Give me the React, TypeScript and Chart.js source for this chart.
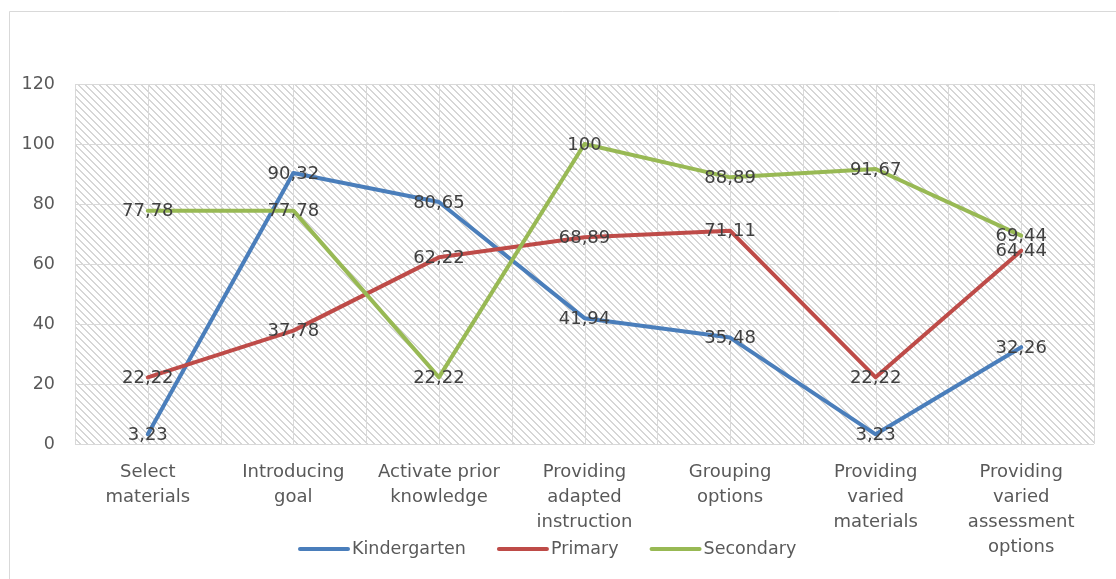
import React, { useEffect, useRef } from 'react';
import { Chart, registerables } from 'chart.js';

Chart.register(...registerables);

const categories: string[][] = [
  ['Select', 'materials'],
  ['Introducing', 'goal'],
  ['Activate prior', 'knowledge'],
  ['Providing', 'adapted', 'instruction'],
  ['Grouping', 'options'],
  ['Providing', 'varied', 'materials'],
  ['Providing', 'varied', 'assessment', 'options'],
];
const seriesNames = ['Kindergarten', 'Primary', 'Secondary'];
const kindergarten = [3.23, 90.32, 80.65, 41.94, 35.48, 3.23, 32.26];
const primary = [22.22, 37.78, 62.22, 68.89, 71.11, 22.22, 64.44];
const secondary = [77.78, 77.78, 22.22, 100, 88.89, 91.67, 69.44];
const seriesColors = ['#4A7EBB', '#BE4B48', '#98B954'];
const yMin = 0;
const yMax = 120;
const yStep = 20;

const FONT = "'DejaVu Sans', Verdana, sans-serif";
const GRID = '#d9d9d9';

const fmt = (v: number) => String(v).replace('.', ',');

const backgroundPlugin = {
  id: 'bgHatch',
  beforeDraw(chart: any) {
    const { ctx, chartArea: a } = chart;
    ctx.save();
    ctx.fillStyle = '#ffffff';
    ctx.fillRect(0, 0, chart.width, chart.height);
    // outer frame
    ctx.strokeStyle = GRID;
    ctx.lineWidth = 1;
    ctx.beginPath();
    ctx.moveTo(9.5, chart.height);
    ctx.lineTo(9.5, 11.5);
    ctx.lineTo(chart.width, 11.5);
    ctx.stroke();
    // hatch pattern (pixel diagonal "\" lines)
    const n = 7;
    const tile = document.createElement('canvas');
    tile.width = n;
    tile.height = n;
    const t = tile.getContext('2d')!;
    t.fillStyle = '#d6d6d6';
    for (let i = 0; i < n; i++) {
      t.fillRect(i, i, 1, 1);
      t.fillRect((i + 1) % n, i, 1, 1);
    }
    const pat = ctx.createPattern(tile, 'repeat');
    if (pat) {
      ctx.fillStyle = pat;
      ctx.fillRect(a.left, a.top, a.right - a.left, a.bottom - a.top);
    }
    // vertical gridlines at category centers and boundaries
    const xs = chart.scales.x;
    const hw = (xs.getPixelForValue(1) - xs.getPixelForValue(0)) / 2;
    ctx.strokeStyle = GRID;
    ctx.lineWidth = 1;
    ctx.beginPath();
    for (let i = 0; i < categories.length; i++) {
      const c = xs.getPixelForValue(i);
      const pts = [c - hw, c];
      if (i === categories.length - 1) pts.push(c + hw);
      for (const p of pts) {
        const px = Math.round(p) + 0.5;
        ctx.moveTo(px, a.top);
        ctx.lineTo(px, a.bottom);
      }
    }
    ctx.stroke();
    ctx.restore();
  },
};

const labelsPlugin = {
  id: 'pointLabels',
  afterDatasetsDraw(chart: any) {
    const { ctx } = chart;
    ctx.save();
    ctx.font = `18px ${FONT}`;
    ctx.fillStyle = '#404040';
    ctx.textAlign = 'center';
    ctx.textBaseline = 'middle';
    chart.data.datasets.forEach((ds: any, di: number) => {
      const meta = chart.getDatasetMeta(di);
      meta.data.forEach((el: any, i: number) => {
        ctx.fillText(fmt(ds.data[i]), el.x, el.y + 1);
      });
    });
    ctx.restore();
  },
};

const legendPlugin = {
  id: 'customLegend',
  afterDraw(chart: any) {
    const { ctx } = chart;
    ctx.save();
    ctx.font = `17.5px ${FONT}`;
    ctx.textBaseline = 'middle';
    ctx.textAlign = 'left';
    const y = 549;
    let x = 300;
    chart.data.datasets.forEach((ds: any) => {
      ctx.strokeStyle = ds.borderColor;
      ctx.lineWidth = 4;
      ctx.lineCap = 'round';
      ctx.beginPath();
      ctx.moveTo(x, y);
      ctx.lineTo(x + 48, y);
      ctx.stroke();
      ctx.fillStyle = '#595959';
      const tx = x + 52;
      ctx.fillText(ds.label, tx, y);
      x = tx + ctx.measureText(ds.label).width + 33;
    });
    ctx.restore();
  },
};

export default function App() {
  const ref = useRef<HTMLCanvasElement | null>(null);

  useEffect(() => {
    if (!ref.current) return;
    const values = [kindergarten, primary, secondary];
    const chart = new Chart(ref.current, {
      type: 'line',
      data: {
        labels: categories,
        datasets: seriesNames.map((name, i) => ({
          label: name,
          data: values[i],
          borderColor: seriesColors[i],
          backgroundColor: seriesColors[i],
          borderWidth: 4,
          borderCapStyle: 'round',
          borderJoinStyle: 'round',
          pointRadius: 0,
          tension: 0,
          fill: false,
          order: 3 - i,
        })),
      },
      options: {
        responsive: false,
        animation: false,
        devicePixelRatio: 1,
        layout: { padding: { top: 84, right: 22, left: 0, bottom: 0 } },
        plugins: {
          legend: { display: false },
          tooltip: { enabled: false },
          title: { display: false },
        },
        scales: {
          x: {
            type: 'category',
            offset: true,
            grid: { display: false, drawTicks: false },
            border: { display: false },
            ticks: {
              autoSkip: false,
              maxRotation: 0,
              minRotation: 0,
              padding: 16,
              color: '#595959',
              font: { family: FONT, size: 18, lineHeight: 25 / 18 },
            },
            afterFit(s: any) { s.height = 135; },
          },
          y: {
            min: yMin,
            max: yMax,
            ticks: {
              stepSize: yStep,
              padding: 20,
              color: '#595959',
              font: { family: FONT, size: 17.5 },
            },
            grid: { color: GRID, lineWidth: 1, drawTicks: false },
            border: { display: false },
            afterFit(s: any) { s.width = 75; },
          },
        },
      },
      plugins: [backgroundPlugin, labelsPlugin, legendPlugin],
    } as any);
    return () => chart.destroy();
  }, []);

  return (
    <div style={{ position: 'fixed', left: 0, top: 0, width: 1116, height: 579 }}>
      <canvas ref={ref} width={1116} height={579} style={{ display: 'block' }} />
    </div>
  );
}
